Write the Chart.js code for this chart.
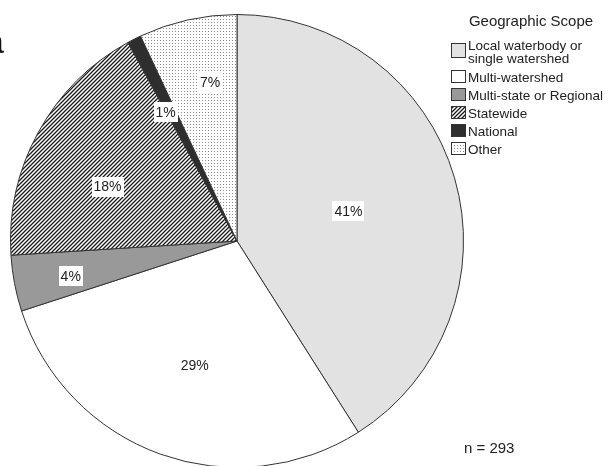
<!DOCTYPE html>
<html lang="en">
<head>
<meta charset="UTF-8">
<title>Geographic Scope</title>
<style>
  body { margin: 0; background: #fff; overflow: hidden; }
  .wrap { position: relative; width: 611px; height: 466px; overflow: hidden; }
  #panel {
    position: absolute; left: -15px; top: 22px;
    font: 34px "Liberation Sans", Arial, sans-serif; color: #111;
  }
</style>
</head>
<body>
<div class="wrap">
  <canvas id="scopeChart" width="611" height="470"></canvas>
  <div id="panel">a</div>
</div>

<script src="https://cdn.jsdelivr.net/npm/chart.js"></script>
<script>
// Share of projects by geographic scope (percent of n)
const categories = ['Local waterbody or single watershed', 'Multi-watershed', 'Multi-state or Regional', 'Statewide', 'National', 'Other'];
const percents = [41, 29, 4, 18, 1, 7];
const sampleSize = 293;
const legendTitle = 'Geographic Scope';

// where each percent label sits: fraction of the radius, and a nudge in degrees
const labelRadius = [0.51, 0.58, 0.75, 0.62, 0.65, 0.71];
const labelShift = [1, -1, -1, -6, -2, 3];

const FONT = '"Liberation Sans", Arial, sans-serif';

function makePattern(draw, w, h) {
    const c = document.createElement('canvas');
    c.width = w; c.height = h;
    const g = c.getContext('2d');
    g.fillStyle = '#fff';
    g.fillRect(0, 0, w, h);
    draw(g);
    return g.createPattern(c, 'repeat');
}

const hatch = makePattern(g => {
    g.strokeStyle = '#1a1a1a';
    g.lineWidth = 1.3;
    g.beginPath();
    g.moveTo(0, 4); g.lineTo(4, 0);
    g.moveTo(-1, 1); g.lineTo(1, -1);
    g.moveTo(3, 5); g.lineTo(5, 3);
    g.stroke();
}, 4, 4);

const dots = makePattern(g => {
    g.fillStyle = '#8f8f8f';
    g.fillRect(1, 1, 1, 1);
}, 3, 3);

const fills = ['#e2e2e2', '#ffffff', '#999999', hatch, '#2e2e2e', dots];

// percent labels on white boxes
const sliceLabels = {
    id: 'sliceLabels',
    afterDatasetsDraw(chart) {
        const ctx = chart.ctx;
        const arcs = chart.getDatasetMeta(0).data;
        ctx.save();
        ctx.font = '14px ' + FONT;
        ctx.textAlign = 'center';
        ctx.textBaseline = 'middle';
        arcs.forEach((arc, i) => {
            const p = arc.getProps(['x', 'y', 'startAngle', 'endAngle', 'outerRadius'], true);
            const a = (p.startAngle + p.endAngle) / 2 + labelShift[i] * Math.PI / 180;
            const r = p.outerRadius * labelRadius[i];
            const lx = p.x + Math.cos(a) * r;
            const ly = p.y + Math.sin(a) * r;
            const text = percents[i] + '%';
            const w = ctx.measureText(text).width + 4;
            ctx.fillStyle = '#fff';
            ctx.fillRect(Math.round(lx - w / 2), Math.round(ly - 10), Math.round(w), 20);
            ctx.fillStyle = '#222';
            ctx.fillText(text, lx, ly + 1);
        });
        ctx.restore();
    }
};

function wrapWords(ctx, text, maxWidth) {
    const words = text.split(' ');
    const lines = [];
    let line = '';
    words.forEach(word => {
        const test = line ? line + ' ' + word : word;
        if (line && ctx.measureText(test).width > maxWidth) {
            lines.push(line);
            line = word;
        } else {
            line = test;
        }
    });
    lines.push(line);
    return lines;
}

// legend block on the right plus the sample size note
const sideLegend = {
    id: 'sideLegend',
    afterDraw(chart) {
        const ctx = chart.ctx;
        ctx.save();
        ctx.fillStyle = '#222';
        ctx.textBaseline = 'alphabetic';

        ctx.font = '15px ' + FONT;
        ctx.textAlign = 'center';
        ctx.fillText(legendTitle, 531, 26);

        ctx.font = '13.5px ' + FONT;
        ctx.textAlign = 'left';
        let baseline = 50;
        categories.forEach((name, i) => {
            const lines = wrapWords(ctx, name, 141);
            const boxTop = lines.length > 1 ? baseline - 7 : baseline - 12;
            const boxH = lines.length > 1 ? 14 : 12;
            ctx.fillStyle = fills[i];
            ctx.fillRect(451, boxTop, 14, boxH);
            ctx.strokeStyle = '#333';
            ctx.lineWidth = 1;
            ctx.strokeRect(451.5, boxTop + 0.5, 14, boxH);
            ctx.fillStyle = '#222';
            lines.forEach((ln, k) => ctx.fillText(ln, 468, baseline + k * 13));
            baseline += (lines.length - 1) * 13 + (i === 0 ? 19 : 18);
        });

        ctx.font = '15px ' + FONT;
        ctx.fillText('n = ' + sampleSize, 464, 453);
        ctx.restore();
    }
};

new Chart(document.getElementById('scopeChart'), {
    type: 'pie',
    data: {
        labels: categories,
        datasets: [{
            data: percents,
            backgroundColor: fills,
            borderColor: '#333',
            borderWidth: 1
        }]
    },
    options: {
        responsive: false,
        devicePixelRatio: 1,
        animation: false,
        events: [],
        layout: { padding: { left: 10, top: 14, right: 147, bottom: 2 } },
        plugins: {
            legend: { display: false },
            tooltip: { enabled: false }
        }
    },
    plugins: [sliceLabels, sideLegend]
});
</script>
</body>
</html>
